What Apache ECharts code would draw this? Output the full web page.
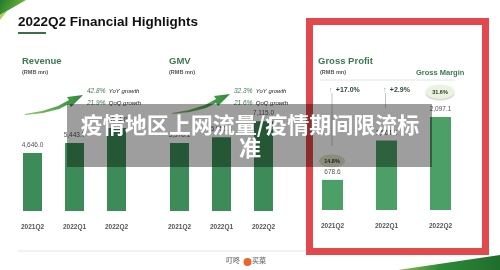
<!DOCTYPE html>
<html><head><meta charset="utf-8">
<script src="https://cdn.jsdelivr.net/npm/echarts@6/dist/echarts.min.js"></script>
<style>html,body{margin:0;padding:0;background:#fff}#c{width:500px;height:270px}</style>
</head><body><div id="c"></div>
<script>
const categories = ['2021Q2', '2022Q1', '2022Q2'];
const revenue = [4646.0, 5443.7, 6634.8];
const gmv = [5378.1, 5851.3, 7115.0];
const grossProfit = [678.6, 1564.3, 2097.1];
const grossMargin = ['14.8%', '31.6%'];
const revenueGrowth = ['42.8%', '21.9%'];
const gmvGrowth = ['32.3%', '21.6%'];
const gpGrowth = ['+17.0%', '+2.9%'];

const F = 'Liberation Sans, Arial, sans-serif';
const fmt = p => p.value.toLocaleString('en-US', {minimumFractionDigits: 1, maximumFractionDigits: 1});
const chart = echarts.init(document.getElementById('c'), null, {renderer: 'canvas'});

function grid(left, width, top, height) { return {left, width, top, height, containLabel: false}; }
function xAx(i) {
  return {type: 'category', gridIndex: i, data: categories, axisLine: {show: false}, axisTick: {show: false},
    axisLabel: {fontSize: 6.5, fontWeight: 'bold', color: '#555', margin: 13, fontFamily: F}};
}
function yAx(i, max) { return {type: 'value', gridIndex: i, min: 0, max, show: false, splitLine: {show: false}}; }
function bar(i, data, color, w) {
  return {type: 'bar', xAxisIndex: i, yAxisIndex: i, data, barWidth: w, itemStyle: {color},
    label: {show: true, position: 'top', distance: 4, fontSize: 6.5, color: '#555', fontFamily: F, formatter: fmt}};
}
function growthText(x, y, pct, word) {
  return {type: 'text', left: x, top: y, style: {text: '{p|' + pct + '} {w|' + word + '}',
    rich: {p: {fontSize: 6.5, fontStyle: 'italic', fill: '#3c7a50', fontFamily: F},
           w: {fontSize: 6, fontStyle: 'italic', fill: '#222', fontFamily: F}}}};
}
function arrow(x0, y0) {
  return {type: 'polygon', shape: {points: [
    [x0, y0 + 1], [x0 + 18, y0 - 1], [x0 + 34, y0 - 5], [x0 + 44, y0 - 10],
    [x0 + 46, y0 - 7], [x0 + 58, y0 - 19], [x0 + 42, y0 - 17], [x0 + 44, y0 - 14],
    [x0 + 33, y0 - 8], [x0 + 17, y0 - 3], [x0, y0]]},
    style: {fill: new echarts.graphic.LinearGradient(0, 0, 1, 0, [{offset: 0, color: '#8cc868'}, {offset: 1, color: '#2a8a3a'}])}};
}

chart.setOption({
  animation: false,
  backgroundColor: '#fff',
  grid: [grid(11.5, 126, 111, 100), grid(158.5, 126, 110, 101), grid(305.5, 162, 99, 111)],
  xAxis: [xAx(0), xAx(1), xAx(2)],
  yAxis: [yAx(0, 8000), yAx(1, 8000), yAx(2, 2500)],
  series: [bar(0, revenue, '#3d8b58', 19), bar(1, gmv, '#3d8b58', 19), bar(2, grossProfit, '#4b9f67', 21)],
  graphic: [
    {type: 'polygon', shape: {points: [[0, 0], [26, 0], [0, 15]]},
      style: {fill: new echarts.graphic.LinearGradient(0, 0, 1, 1, [{offset: 0, color: '#1f7a2e'}, {offset: 1, color: '#8cc63f'}])}},
    {type: 'polygon', shape: {points: [[0, 15], [8, 10], [0, 20]]}, style: {fill: '#a8d45a'}},
    {type: 'polygon', shape: {points: [[398, 270], [500, 255], [500, 270]]},
      style: {fill: new echarts.graphic.LinearGradient(0, 0, 1, 0, [{offset: 0, color: '#8cc63f'}, {offset: 0.4, color: '#2e8a3a'}, {offset: 1, color: '#1f6e2c'}])}},
    {type: 'text', left: 18, top: 15, style: {text: '2022Q2 Financial Highlights', fontSize: 13.5, fontWeight: 'bold', fill: '#111', fontFamily: F}},
    {type: 'rect', shape: {x: 18, y: 32, width: 28, height: 2}, style: {fill: '#3c6e4c'}},
    {type: 'text', left: 22, top: 56, style: {text: 'Revenue', fontSize: 9.5, fontWeight: 'bold', fill: '#3c7a50', fontFamily: F}},
    {type: 'text', left: 22, top: 69, style: {text: '(RMB mn)', fontSize: 5.5, fontWeight: 'bold', fill: '#555', fontFamily: F}},
    {type: 'text', left: 169, top: 56, style: {text: 'GMV', fontSize: 9.5, fontWeight: 'bold', fill: '#3c7a50', fontFamily: F}},
    {type: 'text', left: 169, top: 69, style: {text: '(RMB mn)', fontSize: 5.5, fontWeight: 'bold', fill: '#555', fontFamily: F}},
    growthText(87, 85, revenueGrowth[0], 'YoY growth'),
    growthText(87, 97, revenueGrowth[1], 'QoQ growth'),
    growthText(234, 85, gmvGrowth[0], 'YoY growth'),
    growthText(234, 97, gmvGrowth[1], 'QoQ growth'),
    arrow(25, 114),
    arrow(172, 113),
    {type: 'rect', shape: {x: 309.5, y: 21.5, width: 176, height: 230}, style: {fill: 'none', stroke: '#e3484d', lineWidth: 7}},
    {type: 'text', left: 318, top: 56, style: {text: 'Gross Profit', fontSize: 9.5, fontWeight: 'bold', fill: '#3c7a50', fontFamily: F}},
    {type: 'text', left: 320, top: 69, style: {text: '(RMB mn)', fontSize: 5.5, fontWeight: 'bold', fill: '#555', fontFamily: F}},
    {type: 'text', left: 416, top: 69, style: {text: 'Gross Margin', fontSize: 7.5, fontWeight: 'bold', fill: '#3c7a50', fontFamily: F}},
    {type: 'line', shape: {x1: 320, y1: 80, x2: 455, y2: 80}, style: {stroke: '#ddd', lineWidth: 0.8}},
    {type: 'text', left: 329, top: 84, style: {text: '{a|↑} {b|' + gpGrowth[0] + '}', rich: {a: {fontSize: 7, fill: '#999'}, b: {fontSize: 7, fontWeight: 'bold', fill: '#2c4a36', fontFamily: F}}}},
    {type: 'text', left: 383, top: 84, style: {text: '{a|↑} {b|' + gpGrowth[1] + '}', rich: {a: {fontSize: 7, fill: '#999'}, b: {fontSize: 7, fontWeight: 'bold', fill: '#2c4a36', fontFamily: F}}}},
    {type: 'line', shape: {x1: 332, y1: 93, x2: 332, y2: 146}, style: {stroke: '#aaa', lineWidth: 0.7}},
    {type: 'line', shape: {x1: 385.5, y1: 93, x2: 385.5, y2: 108}, style: {stroke: '#aaa', lineWidth: 0.7}},
    {type: 'ellipse', shape: {cx: 332, cy: 161, rx: 13, ry: 6.5}, style: {fill: '#dde6c6'}},
    {type: 'text', x: 332, y: 161, style: {text: grossMargin[0], fontSize: 5.5, fontWeight: 'bold', fill: '#333', align: 'center', verticalAlign: 'middle', fontFamily: F}},
    {type: 'ellipse', shape: {cx: 440, cy: 92, rx: 14, ry: 7}, style: {fill: '#eaf3dc', shadowBlur: 2, shadowColor: 'rgba(0,0,0,0.25)', shadowOffsetY: 1}},
    {type: 'text', x: 440, y: 92, style: {text: grossMargin[1], fontSize: 5.5, fontWeight: 'bold', fill: '#333', align: 'center', verticalAlign: 'middle', fontFamily: F}},
    {type: 'line', shape: {x1: 18, y1: 251, x2: 306, y2: 251}, style: {stroke: '#ddd', lineWidth: 0.8}},
    {type: 'text', left: 226, top: 257, style: {text: '叮咚', fontSize: 7, fontWeight: 'bold', fill: '#888', fontFamily: 'Noto Sans CJK SC'}},
    {type: 'circle', shape: {cx: 247.5, cy: 262, r: 4}, style: {fill: '#e8672a'}},
    {type: 'text', left: 252, top: 257, style: {text: '买菜', fontSize: 7, fontWeight: 'bold', fill: '#888', fontFamily: 'Noto Sans CJK SC'}},
    {type: 'rect', z: 100, shape: {x: 67, y: 104, width: 365, height: 63}, style: {fill: 'rgba(0,0,0,0.38)'}},
    {type: 'text', z: 101, x: 250, y: 125, style: {text: '疫情地区上网流量/疫情期间限流标', fontSize: 22, fontWeight: 'bold', fill: '#fff', align: 'center', verticalAlign: 'middle', fontFamily: 'Noto Sans CJK SC'}},
    {type: 'text', z: 101, x: 250, y: 148, style: {text: '准', fontSize: 22, fontWeight: 'bold', fill: '#fff', align: 'center', verticalAlign: 'middle', fontFamily: 'Noto Sans CJK SC'}}
  ]
});
</script>
</body></html>
